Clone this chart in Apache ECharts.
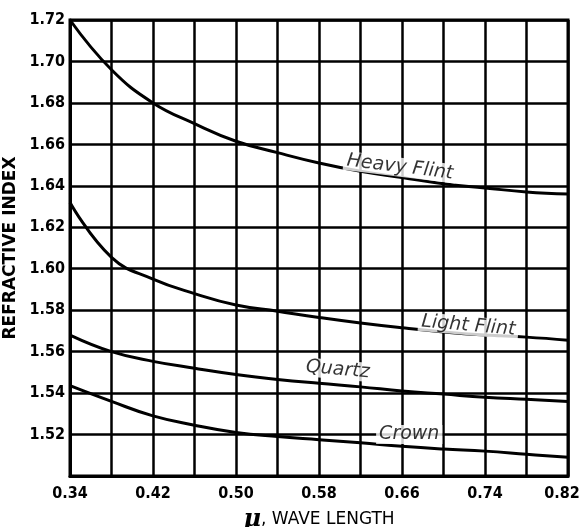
<!DOCTYPE html>
<html>
<head>
<meta charset="utf-8">
<script src="https://cdn.jsdelivr.net/npm/echarts@6/dist/echarts.min.js"></script>
<style>
html,body{margin:0;padding:0;background:#fff;}
#chart{width:580px;height:527px;}
</style>
</head>
<body>
<div id="chart"></div>
<script>
// wave length (microns)
var waveLength = [0.34, 0.38, 0.42, 0.46, 0.50, 0.54, 0.58, 0.62, 0.66, 0.70, 0.74, 0.78, 0.82];
// refractive index per material
var heavyFlint = [1.720, 1.696, 1.680, 1.670, 1.6615, 1.656, 1.651, 1.647, 1.644, 1.641, 1.639, 1.637, 1.636];
var lightFlint = [1.632, 1.6055, 1.595, 1.588, 1.5825, 1.5795, 1.5765, 1.5738, 1.5715, 1.5695, 1.568, 1.567, 1.5655];
var quartz     = [1.568, 1.560, 1.5553, 1.552, 1.549, 1.5466, 1.5447, 1.543, 1.541, 1.5395, 1.538, 1.537, 1.536];
var crown      = [1.5436, 1.536, 1.529, 1.5245, 1.521, 1.519, 1.5175, 1.516, 1.5143, 1.513, 1.512, 1.5105, 1.509];

// curve labels
var curveNames = ['Heavy Flint', 'Light Flint', 'Quartz', 'Crown'];
var curveLabelX = [0.658, 0.724, 0.598, 0.667];
var curveLabelY = [1.649, 1.5725, 1.5513, 1.520];
var curveLabelRotate = [-7, -5, -5, 0];

// axes
var xMin = 0.34, xMax = 0.82, xStep = 0.04;
var yMin = 1.50, yMax = 1.72, yStep = 0.02;

function pairs(xs, ys) { return xs.map(function (x, i) { return [x, ys[i]]; }); }

var tickFont = "'Liberation Sans Narrow', 'DejaVu Sans Condensed', sans-serif";

var chart = echarts.init(document.getElementById('chart'), null, {renderer: 'canvas'});

var lineSeries = [heavyFlint, lightFlint, quartz, crown].map(function (ys, i) {
  return {
    name: curveNames[i],
    type: 'line',
    data: pairs(waveLength, ys),
    smooth: 0.45,
    showSymbol: false,
    symbol: 'none',
    lineStyle: {color: '#000', width: 3},
    z: 3,
    silent: true
  };
});

var labelSeries = curveNames.map(function (name, i) {
  return {
    type: 'scatter',
    data: [[curveLabelX[i], curveLabelY[i]]],
    symbolSize: 0,
    z: 5,
    silent: true,
    label: {
      show: true,
      position: 'inside',
      formatter: name,
      rotate: curveLabelRotate[i],
      color: '#000',
      fontFamily: "'DejaVu Sans', sans-serif",
      fontStyle: 'italic',
      fontSize: 19,
      backgroundColor: '#fff',
      padding: [0, 3, 0, 3]
    }
  };
});

chart.setOption({
  animation: false,
  backgroundColor: '#fff',
  grid: {left: 70, right: 12, top: 20, bottom: 51, containLabel: false,
         outerBoundsMode: 'none',
         show: true, borderColor: '#000', borderWidth: 3},
  xAxis: {
    type: 'value',
    min: xMin, max: xMax, interval: xStep,
    name: '{mu|μ}, WAVE LENGTH',
    nameLocation: 'middle',
    nameGap: 32,
    nameTextStyle: {
      color: '#000', fontSize: 17, fontFamily: "'DejaVu Sans', sans-serif",
      rich: {mu: {fontSize: 24, fontStyle: 'italic', fontWeight: 'bold', fontFamily: "'DejaVu Serif', serif", color: '#000'}}
    },
    axisLine: {show: true, lineStyle: {color: '#000', width: 3}},
    axisTick: {show: false},
    splitLine: {show: true, lineStyle: {color: '#000', width: 2.5}},
    axisLabel: {
      color: '#000', fontSize: 16, fontWeight: 'bold', fontFamily: tickFont, margin: 10,
      rich: {last: {color: '#000', fontSize: 16, fontWeight: 'bold', fontFamily: tickFont, padding: [0, 12, 0, 0]}},
      formatter: function (v) {
        var k = Math.round((v - xMin) / xStep);
        if (k % 2 !== 0) return '';
        if (Math.abs(v - xMax) < 1e-9) return '{last|' + v.toFixed(2) + '}';
        return v.toFixed(2);
      }
    }
  },
  yAxis: {
    type: 'value',
    min: yMin, max: yMax, interval: yStep,
    name: 'REFRACTIVE INDEX',
    nameLocation: 'middle',
    nameGap: 45,
    nameTextStyle: {color: '#000', fontSize: 17, fontWeight: 'bold', fontFamily: "'DejaVu Sans', sans-serif"},
    axisLine: {show: true, lineStyle: {color: '#000', width: 3}},
    axisTick: {show: false},
    splitLine: {show: true, lineStyle: {color: '#000', width: 2.5}},
    axisLabel: {
      color: '#000', fontSize: 16, fontWeight: 'bold', fontFamily: tickFont, margin: 5,
      formatter: function (v) {
        if (Math.abs(v - yMin) < 1e-9) return '';
        return v.toFixed(2);
      }
    }
  },
  series: lineSeries.concat(labelSeries)
});
</script>
</body>
</html>
